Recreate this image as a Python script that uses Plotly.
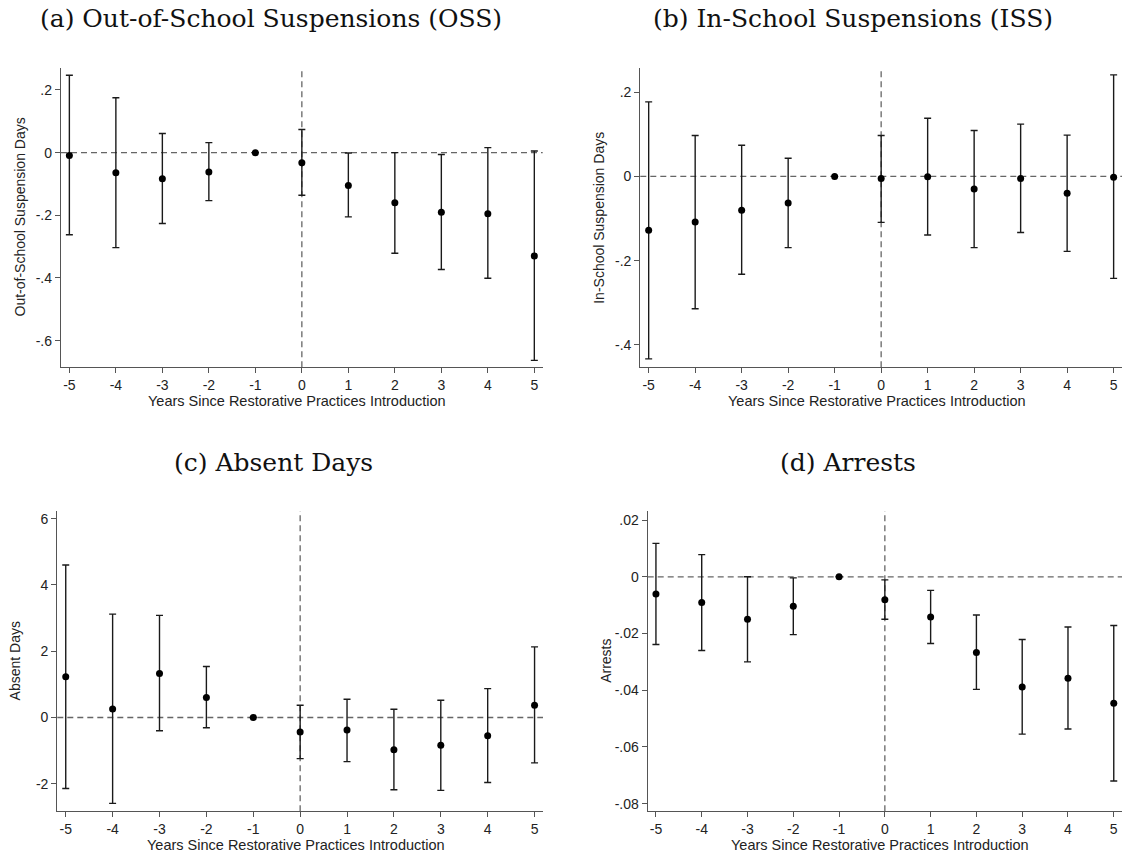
import plotly.graph_objects as go

years = [-5, -4, -3, -2, -1, 0, 1, 2, 3, 4, 5]

# (a) Out-of-School Suspensions
oss_est = [-0.009, -0.064, -0.083, -0.062, 0.0, -0.032, -0.105, -0.160, -0.190, -0.195, -0.330]
oss_hi = [0.247, 0.175, 0.061, 0.032, None, 0.074, -0.001, 0.000, -0.006, 0.016, 0.005]
oss_lo = [-0.262, -0.303, -0.226, -0.153, None, -0.136, -0.205, -0.321, -0.373, -0.401, -0.663]

# (b) In-School Suspensions
iss_est = [-0.128, -0.108, -0.080, -0.063, 0.0, -0.005, -0.001, -0.030, -0.005, -0.040, -0.002]
iss_hi = [0.177, 0.097, 0.074, 0.043, None, 0.097, 0.138, 0.109, 0.124, 0.098, 0.241]
iss_lo = [-0.433, -0.314, -0.232, -0.169, None, -0.109, -0.139, -0.169, -0.133, -0.178, -0.242]

# (c) Absent Days
abs_est = [1.23, 0.26, 1.33, 0.60, 0.0, -0.44, -0.38, -0.97, -0.84, -0.55, 0.37]
abs_hi = [4.60, 3.12, 3.08, 1.54, None, 0.37, 0.55, 0.25, 0.52, 0.87, 2.13]
abs_lo = [-2.14, -2.59, -0.40, -0.31, None, -1.24, -1.33, -2.18, -2.20, -1.96, -1.37]

# (d) Arrests
arr_est = [-0.0061, -0.0091, -0.0150, -0.0104, 0.0, -0.0081, -0.0142, -0.0267, -0.0389, -0.0358, -0.0446]
arr_hi = [0.0118, 0.0078, 0.0000, -0.0004, None, -0.0011, -0.0048, -0.0135, -0.0221, -0.0177, -0.0172]
arr_lo = [-0.0239, -0.0260, -0.0300, -0.0204, None, -0.0150, -0.0235, -0.0397, -0.0555, -0.0537, -0.0720]

titles = ["(a) Out-of-School Suspensions (OSS)", "(b) In-School Suspensions (ISS)",
          "(c) Absent Days", "(d) Arrests"]
ytitles = ["Out-of-School Suspension Days", "In-School Suspension Days", "Absent Days", "Arrests"]
xtitle = "Years Since Restorative Practices Introduction"

ytick_vals = [[0.2, 0, -0.2, -0.4, -0.6], [0.2, 0, -0.2, -0.4], [6, 4, 2, 0, -2],
              [0.02, 0, -0.02, -0.04, -0.06, -0.08]]
ytick_text = [[".2", "0", "-.2", "-.4", "-.6"], [".2", "0", "-.2", "-.4"], ["6", "4", "2", "0", "-2"],
              [".02", "0", "-.02", "-.04", "-.06", "-.08"]]

W, H = 1125, 856
# panel boxes in pixels: left, right, top, bottom
boxes = [(61, 542.7, 67.7, 367.3), (640.3, 1122, 67.7, 367.3),
         (57.3, 543, 511, 811.3), (647.7, 1122, 511, 811.3)]
title_cx = [271, 853, 273, 848]
yranges = [[-0.685, 0.271], [-0.453, 0.258], [-2.83, 6.23], [-0.0827, 0.0232]]
xrange_ = [-5.18, 5.18]

series = [(oss_est, oss_hi, oss_lo), (iss_est, iss_hi, iss_lo),
          (abs_est, abs_hi, abs_lo), (arr_est, arr_hi, arr_lo)]

fig = go.Figure()
axis_col = "#555555"
sans = "Liberation Sans, Arial, sans-serif"
tick_font = dict(family=sans, size=14, color="#222222")
shapes = []
annotations = []

for i, ((est, hi, lo), box) in enumerate(zip(series, boxes)):
    n = i + 1
    xa = "x" if n == 1 else f"x{n}"
    ya = "y" if n == 1 else f"y{n}"
    plus = [(h - e) if h is not None else float("nan") for h, e in zip(hi, est)]
    minus = [(e - l) if l is not None else float("nan") for l, e in zip(lo, est)]
    fig.add_trace(go.Scatter(
        x=years, y=est, mode="markers", xaxis=xa, yaxis=ya, showlegend=False,
        marker=dict(color="black", size=7),
        error_y=dict(type="data", symmetric=False, array=plus, arrayminus=minus,
                     color="#1a1a1a", thickness=1.4, width=3.5),
    ))
    l, r, t, b = box
    xdom = [l / W, r / W]
    ydom = [1 - b / H, 1 - t / H]
    common = dict(showline=True, linecolor=axis_col, linewidth=1.3, ticks="outside",
                  ticklen=5, tickwidth=1.1, tickcolor=axis_col, showgrid=False,
                  zeroline=False, tickfont=tick_font)
    fig.update_layout({
        ("xaxis" if n == 1 else f"xaxis{n}"): dict(
            domain=xdom, range=xrange_, anchor=ya, tickvals=years,
            ticktext=[str(v) for v in years], **common),
        ("yaxis" if n == 1 else f"yaxis{n}"): dict(
            domain=ydom, range=yranges[i], anchor=xa, tickvals=ytick_vals[i],
            ticktext=ytick_text[i], **common),
    })
    dash_line = dict(color="#666666", width=1.3, dash="6px,4px")
    shapes.append(dict(type="line", xref=f"{xa} domain", yref=ya, x0=0, x1=1, y0=0, y1=0,
                       line=dash_line, layer="below"))
    shapes.append(dict(type="line", xref=xa, yref=f"{ya} domain", x0=0, x1=0, y0=0, y1=1,
                       line=dash_line, layer="below"))
    # titles
    tcy = t - 49
    annotations.append(dict(text=titles[i], x=title_cx[i] / W, y=1 - tcy / H, xref="paper", yref="paper",
                            showarrow=False, xanchor="center", yanchor="middle",
                            font=dict(family="DejaVu Serif, serif", size=25, color="#111111")))
    annotations.append(dict(text=xtitle, x=(l + r) / 2 / W - 0.004, y=1 - (b + 34) / H,
                            xref="paper", yref="paper", showarrow=False,
                            xanchor="center", yanchor="middle",
                            font=dict(family=sans, size=14.5, color="#222222")))
    annotations.append(dict(text=ytitles[i], x=(l - 42) / W, y=1 - (t + b) / 2 / H,
                            xref="paper", yref="paper", showarrow=False, textangle=-90,
                            xanchor="center", yanchor="middle",
                            font=dict(family=sans, size=14, color="#222222")))

fig.update_layout(width=W, height=H, margin=dict(l=0, r=0, t=0, b=0),
                  paper_bgcolor="white", plot_bgcolor="white",
                  shapes=shapes, annotations=annotations)

fig.write_html("out.html", config={"displayModeBar": False},
               post_script="document.body.style.margin='0';document.body.style.overflow='hidden';")
